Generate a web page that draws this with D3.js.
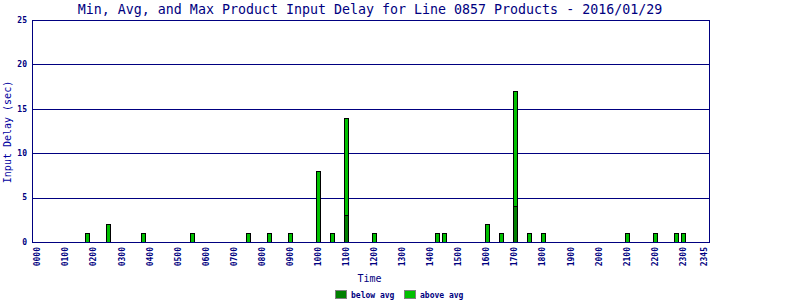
<!DOCTYPE html>
<html>
<head>
<meta charset="utf-8">
<script src="https://cdn.jsdelivr.net/npm/d3@7"></script>
<style>
  body { margin: 0; background: #fff; }
  svg { display: block; font-family: 'DejaVu Sans Mono', monospace; }
</style>
</head>
<body>
<div id="chart"></div>
<script>
// quarter-hour slots 0000..2345
const HOURS = ['00','01','02','03','04','05','06','07','08','09','10','11','12','13','14','15','16','17','18','19','20','21','22','23']
const QUARTERS = ['00','15','30','45']
const SLOTS = HOURS.flatMap(h => QUARTERS.map(q => h + q))

const TICK_LABELS = ['0000','0100','0200','0300','0400','0500','0600','0700','0800','0900','1000','1100',
  '1200','1300','1400','1500','1600','1700','1800','1900','2000','2100','2200','2300','2345']

const BAR_TIMES = ['0145','0230','0345','0530','0730','0815','0900','1000','1030','1100','1200',
  '1415','1430','1600','1630','1700','1730','1800','2100','2200','2245','2300']
const BELOW_AVG = [0,0,0,0,0,0,0,0,0,3,0, 0,0,0,0,4,0,0,0,0,0,0]
const ABOVE_AVG = [1,2,1,1,1,1,1,8,1,11,1, 1,1,2,1,13,1,1,1,1,1,1]

const Y_TICKS = [0, 5, 10, 15, 20, 25]

const NAVY = '#000080'
const DARK = '#008000'
const LIGHT = '#00c000'

const W = 800, H = 300
const plot = { left: 32, right: 710, top: 20, bottom: 242 }

const svg = d3.select('#chart').append('svg').attr('width', W).attr('height', H)

const x = d3.scaleBand().domain(SLOTS).range([plot.left + 2.5, plot.right - 2])
const y = d3.scaleLinear().domain([0, 25]).range([plot.bottom, plot.top])

// title
svg.append('text')
  .attr('x', 370).attr('y', 14)
  .attr('text-anchor', 'middle')
  .attr('font-size', '13.3px')
  .attr('fill', NAVY)
  .text('Min, Avg, and Max Product Input Delay for Line 0857 Products - 2016/01/29')

// grid lines
svg.append('g').selectAll('line')
  .data(Y_TICKS.filter(v => v > 0 && v < 25))
  .join('line')
  .attr('x1', plot.left).attr('x2', plot.right)
  .attr('y1', d => Math.round(y(d)) + 0.5).attr('y2', d => Math.round(y(d)) + 0.5)
  .attr('stroke', NAVY)

// y tick labels
svg.append('g').selectAll('text')
  .data(Y_TICKS)
  .join('text')
  .attr('x', 27).attr('y', d => y(d))
  .attr('dy', '0.35em')
  .attr('text-anchor', 'end')
  .attr('font-size', '8px').attr('font-weight', 'bold')
  .attr('fill', NAVY)
  .text(d => d)

// bars
const bars = BAR_TIMES.map((t, i) => ({ t, below: BELOW_AVG[i], above: ABOVE_AVG[i] }))
const barW = 5
const bx = d => Math.round(x(d.t) + x.bandwidth() / 2 - barW / 2) + 0.5

const g = svg.append('g')
bars.forEach(d => {
  const total = d.below + d.above
  g.append('rect')
    .attr('x', bx(d)).attr('y', Math.round(y(total)) + 0.5)
    .attr('width', barW - 1).attr('height', Math.round(y(0)) - Math.round(y(total)))
    .attr('fill', LIGHT).attr('stroke', '#000')
  if (d.below > 0) {
    g.append('rect')
      .attr('x', bx(d)).attr('y', Math.round(y(d.below)) + 0.5)
      .attr('width', barW - 1).attr('height', Math.round(y(0)) - Math.round(y(d.below)))
      .attr('fill', DARK).attr('stroke', '#000')
  }
})

// frame
svg.append('rect')
  .attr('x', plot.left + 0.5).attr('y', plot.top + 0.5)
  .attr('width', plot.right - plot.left - 1).attr('height', plot.bottom - plot.top)
  .attr('fill', 'none').attr('stroke', NAVY)

// x tick labels
svg.append('g').selectAll('text')
  .data(TICK_LABELS)
  .join('text')
  .attr('transform', d => `translate(${x(d) + x.bandwidth() / 2 - 0.5},247) rotate(-90)`)
  .attr('dy', '0.35em')
  .attr('text-anchor', 'end')
  .attr('font-size', '8px').attr('font-weight', 'bold')
  .attr('fill', NAVY)
  .text(d => d)

// axis titles
svg.append('text')
  .attr('transform', 'translate(11,132) rotate(-90)')
  .attr('text-anchor', 'middle')
  .attr('font-size', '10px')
  .attr('fill', '#0000a0')
  .text('Input Delay (sec)')

svg.append('text')
  .attr('x', 369.5).attr('y', 282)
  .attr('text-anchor', 'middle')
  .attr('font-size', '10px')
  .attr('fill', NAVY)
  .text('Time')

// legend
const legend = [{ name: 'below avg', color: DARK, x: 335 }, { name: 'above avg', color: LIGHT, x: 404 }]
legend.forEach(l => {
  svg.append('rect')
    .attr('x', l.x + 0.5).attr('y', 290.5).attr('width', 11).attr('height', 8)
    .attr('fill', l.color).attr('stroke', '#808080')
  svg.append('text')
    .attr('x', l.x + 16).attr('y', 297.5)
    .attr('font-size', '8px').attr('font-weight', 'bold')
    .attr('fill', NAVY)
    .text(l.name)
})
</script>
</body>
</html>
